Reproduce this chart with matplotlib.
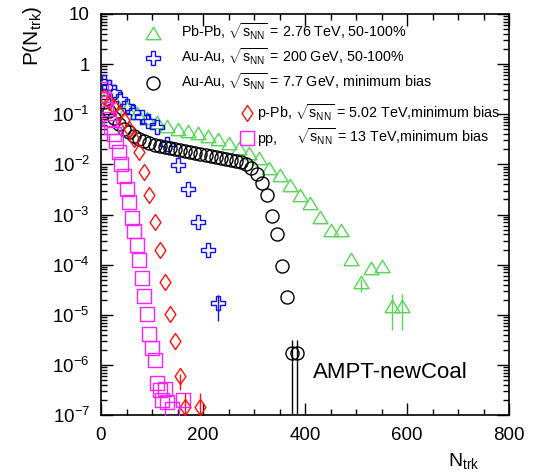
import numpy as np
import matplotlib
matplotlib.use('Agg')
import matplotlib.pyplot as plt
from matplotlib.ticker import MultipleLocator, NullFormatter, FixedLocator, FuncFormatter

plt.rcParams['font.family'] = ['Liberation Sans', 'DejaVu Sans']
plt.rcParams['mathtext.fontset'] = 'custom'
plt.rcParams['mathtext.rm'] = 'Liberation Sans'
plt.rcParams['mathtext.it'] = 'Liberation Sans:italic'
plt.rcParams['mathtext.bf'] = 'Liberation Sans:bold'

# ---------------- data ----------------
# Pb-Pb 2.76 TeV, 50-100%
pbpb_n = [10, 30, 50, 70, 90, 110, 130, 150, 170, 190, 210, 230, 250, 270, 290,
          310, 330, 350, 370, 390, 410, 430, 450, 470, 490, 510, 530, 550, 570, 590]
pbpb_p = [0.229, 0.166, 0.132, 0.105, 0.083, 0.069, 0.0575, 0.050, 0.0457, 0.0417,
          0.0363, 0.0316, 0.0263, 0.0209, 0.0166, 0.0132, 0.0083, 0.0060, 0.0038, 0.0025,
          0.00166, 9.1e-4, 4.8e-4, 5.0e-4, 1.32e-4, 4.6e-5, 8.7e-5, 9.5e-5, 1.5e-5, 1.5e-5]
pbpb_err_n = [510, 570, 590]
pbpb_err_p = [4.6e-5, 1.5e-5, 1.5e-5]
pbpb_err_lo = [1.7e-5, 1.0e-5, 1.0e-5]
pbpb_err_hi = [0.5e-5, 1.1e-5, 1.1e-5]

# Au-Au 200 GeV, 50-100%
auau200_n = [5, 15, 25, 37, 50, 62, 80, 92, 110, 130, 150, 170, 190, 210, 230]
auau200_p = [0.437, 0.347, 0.275, 0.20, 0.145, 0.110, 0.087, 0.072, 0.055, 0.025,
             0.0095, 0.0033, 7.2e-4, 2.0e-4, 1.74e-5]
auau200_err_n = [230]
auau200_err_p = [1.74e-5]
auau200_err_lo = [1.0e-5]
auau200_err_hi = [0.76e-5]

# Au-Au 7.7 GeV, minimum bias
auau77_n = [5, 15, 25, 35, 45, 55, 65, 75, 85, 95, 105, 115, 125, 135, 145, 155, 165,
            175, 185, 195, 205, 215, 225, 235, 245, 255, 265, 275, 285, 295, 305, 315,
            325, 335, 345, 355, 365, 375, 385]
auau77_p = [0.174, 0.115, 0.083, 0.063, 0.050, 0.0437, 0.0363, 0.0316, 0.0288, 0.0263,
            0.0240, 0.0229, 0.0219, 0.0209, 0.0200, 0.0191, 0.0182, 0.0174, 0.0166, 0.0158,
            0.0151, 0.0145, 0.0138, 0.0132, 0.0126, 0.0120, 0.0115, 0.0110, 0.0100, 0.0083,
            0.0063, 0.0042, 0.0025, 9.5e-4, 4.0e-4, 9.5e-5, 2.3e-5, 1.7e-6, 1.7e-6]
auau77_err_n = [375, 385]
auau77_err_p = [1.7e-6, 1.7e-6]
auau77_err_lo = [1.6998e-6, 1.6998e-6]
auau77_err_hi = [1.46e-6, 1.46e-6]

# p-Pb 5.02 TeV, minimum bias
ppb_n = [5, 15, 25, 35, 45, 55, 65, 75, 85, 95, 105, 115, 125, 135, 145, 155, 165, 195]
ppb_p = [0.219, 0.174, 0.138, 0.105, 0.076, 0.050, 0.0316, 0.0174, 0.0069, 0.0025,
         7.2e-4, 2.0e-4, 4.4e-5, 1.05e-5, 3.0e-6, 6.0e-7, 1.45e-7, 1.45e-7]
ppb_err_n = [155, 165, 195]
ppb_err_p = [6.0e-7, 1.45e-7, 1.45e-7]
ppb_err_lo = [2.8e-7, 1.4498e-7, 1.4498e-7]
ppb_err_hi = [0.5e-7, 1.3e-7, 1.3e-7]

# pp 13 TeV, minimum bias
pp_n = [0, 5, 10, 15, 20, 25, 30, 35, 40, 45, 50, 55, 60, 65, 70, 75, 80, 85, 90, 95,
        100, 105, 110, 115, 120, 125, 130, 140, 160]
pp_p = [0.316, 0.20, 0.126, 0.079, 0.055, 0.040, 0.0288, 0.0174, 0.010, 0.00575,
        0.00316, 0.00174, 8.7e-4, 4.6e-4, 2.5e-4, 1.26e-4, 5.5e-5, 2.4e-5, 1.05e-5, 4.2e-6,
        2.2e-6, 1.26e-6, 4.4e-7, 3.2e-7, 2.0e-7, 3.3e-7, 1.8e-7, 1.3e-7, 2.0e-7]

y_ticks = [1e-7, 1e-6, 1e-5, 1e-4, 1e-3, 1e-2, 1e-1, 1, 10]
x_ticks = [0, 200, 400, 600, 800]

legend_top = [r'Pb-Pb, $\sqrt{\mathrm{s}_{\mathrm{NN}}}$ = 2.76 TeV, 50-100%',
              r'Au-Au, $\sqrt{\mathrm{s}_{\mathrm{NN}}}$ = 200 GeV, 50-100%',
              r'Au-Au, $\sqrt{\mathrm{s}_{\mathrm{NN}}}$ = 7.7 GeV, minimum bias']
legend_ppb = r'p-Pb, $\sqrt{\mathrm{s}_{\mathrm{NN}}}$ = 5.02 TeV,minimum bias'
legend_pp_a = 'pp,'
legend_pp_b = r'$\sqrt{\mathrm{s}_{\mathrm{NN}}}$ = 13 TeV,minimum bias'

# ---------------- styles ----------------
c_green = '#55d655'
c_blue = '#1010ff'
c_black = '#000000'
c_red = '#ff1010'
c_mag = '#ff20ff'

tri = [(-1, -0.83), (1, -0.83), (0, 0.83), (-1, -0.83)]
dia = [(0, -1), (0.68, 0), (0, 1), (-0.68, 0), (0, -1)]

m_tri = dict(marker=tri, ms=10.8, mec=c_green)
m_plus = dict(marker='P', ms=10.5, mec=c_blue)
m_circ = dict(marker='o', ms=9.4, mec=c_black)
m_dia = dict(marker=dia, ms=11.5, mec=c_red)
m_sq = dict(marker='s', ms=10, mec=c_mag)

fig = plt.figure(figsize=(5.41, 4.72), dpi=100)
ax = fig.add_axes([101/541, 1-415/472, 408/541, 401/472])

mew = 1.0
ax.errorbar(pbpb_err_n, pbpb_err_p, yerr=[pbpb_err_lo, pbpb_err_hi], fmt='none',
            ecolor=c_green, elinewidth=1.0, capsize=0, zorder=2)
ax.errorbar(auau200_err_n, auau200_err_p, yerr=[auau200_err_lo, auau200_err_hi], fmt='none',
            ecolor=c_blue, elinewidth=1.0, capsize=0, zorder=2)
ax.errorbar(auau77_err_n, auau77_err_p, yerr=[auau77_err_lo, auau77_err_hi], fmt='none',
            ecolor=c_black, elinewidth=1.0, capsize=0, zorder=2)
ax.errorbar(ppb_err_n, ppb_err_p, yerr=[ppb_err_lo, ppb_err_hi], fmt='none',
            ecolor=c_red, elinewidth=1.0, capsize=0, zorder=2)

ax.plot(pbpb_n, pbpb_p, ls='none', mfc='none', mew=mew, zorder=3, **m_tri)
ax.plot(auau200_n, auau200_p, ls='none', mfc='none', mew=mew, zorder=3, **m_plus)
ax.plot(auau77_n, auau77_p, ls='none', mfc='none', mew=mew, zorder=3, **m_circ)
ax.plot(ppb_n, ppb_p, ls='none', mfc='none', mew=mew, zorder=3, **m_dia)
ax.plot(pp_n, pp_p, ls='none', mfc='none', mew=mew, zorder=3, **m_sq)

ax.set_yscale('log')
ax.set_xlim(0, 800)
ax.set_ylim(1e-7, 10)

ax.xaxis.set_major_locator(FixedLocator(x_ticks))
ax.xaxis.set_minor_locator(MultipleLocator(50))
ax.yaxis.set_major_locator(FixedLocator(y_ticks))
minor_y = [m * 10.0**e for e in range(-7, 1) for m in range(2, 10)]
ax.yaxis.set_minor_locator(FixedLocator(minor_y))
ax.yaxis.set_minor_formatter(NullFormatter())

def yfmt(v, pos):
    e = int(round(np.log10(v)))
    if e == 1:
        return '10'
    if e == 0:
        return '1'
    return r'$10^{%d}$' % e
ax.yaxis.set_major_formatter(FuncFormatter(yfmt))

ax.tick_params(which='both', direction='in', top=True, right=True, width=1.0)
ax.tick_params(which='major', length=8.5, labelsize=13.5)
ax.tick_params(axis='x', which='major', pad=9)
ax.tick_params(axis='y', which='major', pad=8)
ax.tick_params(which='minor', length=4.5)
for s in ax.spines.values():
    s.set_linewidth(1.2)

# axis titles
fig.text(448/541, 1-466/472, r'N$_{\mathrm{trk}}$', fontsize=14, ha='left', va='baseline')
fig.text(32/541, 1-36/472, r'P(N$_{\mathrm{trk}}$)', fontsize=15, rotation=90,
         ha='center', va='center')

# legend (ROOT-style)
def axf(px, py):
    return ((px - 101) / 408.0, (415 - py) / 401.0)

rows = [37.3, 62.5, 87.5]
mk_rows = [33, 58, 83]
styles = [m_tri, m_plus, m_circ]
fs_leg = 10.3
for lab, yb, ym, st in zip(legend_top, rows, mk_rows, styles):
    x, y = axf(153, ym)
    ax.plot([x], [y], transform=ax.transAxes, ls='none', mfc='none', mew=mew,
            clip_on=False, zorder=5, **st)
    tx, ty = axf(181, yb)
    ax.text(tx, ty, lab, transform=ax.transAxes, fontsize=fs_leg, ha='left', va='baseline')

x, y = axf(247, 113)
ax.plot([x], [y], transform=ax.transAxes, ls='none', mfc='none', mew=mew,
        clip_on=False, zorder=5, **m_dia)
tx, ty = axf(257, 118.3)
ax.text(tx, ty, legend_ppb, transform=ax.transAxes, fontsize=fs_leg, ha='left', va='baseline')

x, y = axf(247, 138)
ax.plot([x], [y], transform=ax.transAxes, ls='none', mfc='none', mew=mew,
        clip_on=False, zorder=5, **m_sq)
tx, ty = axf(257, 142.5)
ax.text(tx, ty, legend_pp_a, transform=ax.transAxes, fontsize=fs_leg, ha='left', va='baseline')
tx, ty = axf(296, 142.5)
ax.text(tx, ty, legend_pp_b, transform=ax.transAxes, fontsize=fs_leg, ha='left', va='baseline')

tx, ty = axf(313, 378)
ax.text(tx, ty, 'AMPT-newCoal', transform=ax.transAxes, fontsize=16, ha='left', va='baseline')

fig.savefig('out.png', dpi=100)
